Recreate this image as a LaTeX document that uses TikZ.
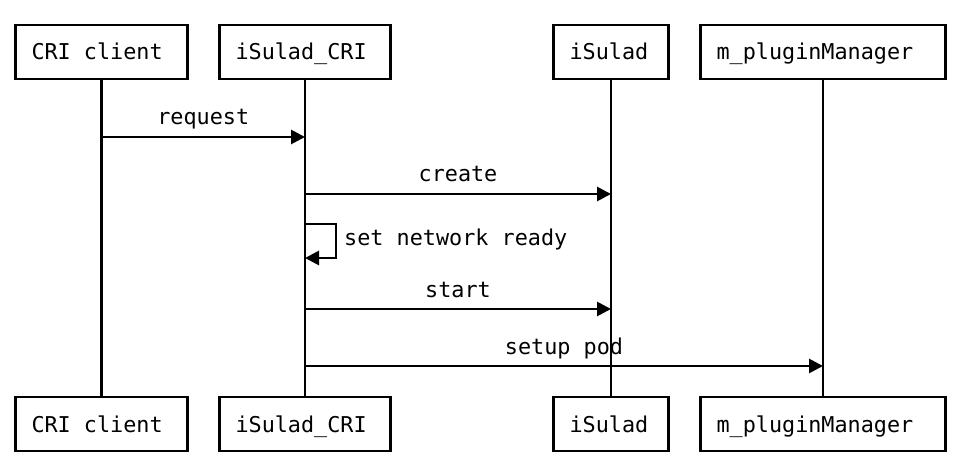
\documentclass[tikz,border=0pt]{standalone}
\usepackage{fontspec}
\setmonofont{DejaVu Sans Mono}
\usetikzlibrary{arrows.meta}
\newcommand{\actorlbl}[2]{\makebox[#1][l]{#2}}

\begin{document}
\begin{tikzpicture}[
            x=1pt,y=-1pt,
            txt/.style={font=\ttfamily\fontsize{21.8pt}{26pt}\selectfont},
            actor/.style={txt,draw,line width=2.8pt,minimum height=54pt,inner xsep=16pt,text height=16pt,text depth=0pt},
            life/.style={line width=2.8pt},
            msg/.style={-{Triangle[length=14pt,width=14pt]},line width=2.8pt}
        ]
            \useasboundingbox (0,0) rectangle (977,473);

            % participants, top and bottom
            \node[actor] (cli)  at (101.5,52) {\actorlbl{140pt}{CRI client}};
            \node[actor] (icri) at (305,52)   {\actorlbl{139pt}{iSulad\_CRI}};
            \node[actor] (isl)  at (611,52)   {\actorlbl{83pt}{iSulad}};
            \node[actor] (pm)   at (823,52)   {\actorlbl{213pt}{m\_pluginManager}};
            \node[actor] (cliB)  at (101.5,424) {\actorlbl{140pt}{CRI client}};
            \node[actor] (icriB) at (305,424)   {\actorlbl{139pt}{iSulad\_CRI}};
            \node[actor] (islB)  at (611,424)   {\actorlbl{83pt}{iSulad}};
            \node[actor] (pmB)   at (823,424)   {\actorlbl{213pt}{m\_pluginManager}};

            \foreach \p in {cli,icri,isl,pm} {
                \draw[life] (\p) -- (\p B);
            }

            % messages
            \foreach \src/\dst/\yy/\lbl in {cli/icri/137/request,icri/isl/194/create,icri/isl/309/start,icri/pm/366/setup pod} {
                \coordinate (from) at (\src |- 0,\yy);
                \coordinate (to) at (\dst |- 0,\yy);
                \draw[msg] (from) -- (to) node[txt,midway,anchor=base,yshift=12pt,inner sep=0pt]{\lbl};
            }

            \coordinate (selfA) at (icri |- 0,224);
            \coordinate (selfB) at (icri |- 0,258);
            \draw[msg] (selfA) -- ++(31,0) |- (selfB);
            \node[txt,anchor=base west,inner sep=0pt] (selfL) at (344,245) {set network ready};
        \end{tikzpicture}
\end{document}
